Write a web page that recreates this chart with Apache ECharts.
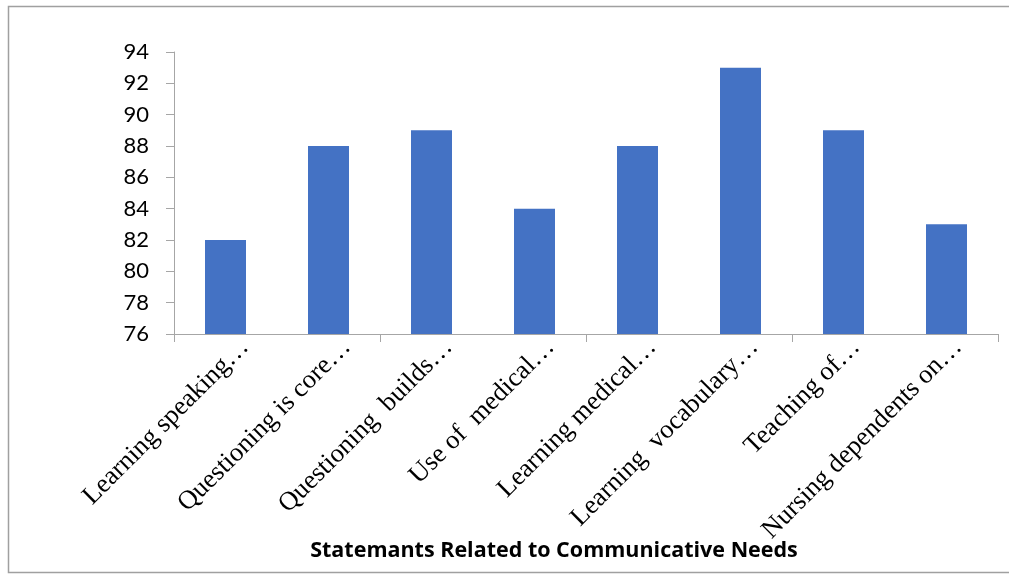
<!DOCTYPE html>
<html>
<head>
<meta charset="utf-8">
<script src="https://cdn.jsdelivr.net/npm/echarts@6/dist/echarts.min.js"></script>
<style>
html,body{margin:0;padding:0;background:#fff;}
#c{width:1009px;height:577px;}
</style>
</head>
<body>
<div id="c"></div>
<script>
const categories = [
  "Learning speaking\u2026",
  "Questioning is core\u2026",
  "Questioning  builds\u2026",
  "Use of  medical\u2026",
  "Learning medical\u2026",
  "Learning  vocabulary\u2026",
  "Teaching of\u2026",
  "Nursing dependents on\u2026"
];
const values = [82, 88, 89, 84, 88, 93, 89, 83];
const yTicks = { min: 76, max: 94, interval: 2 };
const xTitle = "Statemants Related to Communicative Needs";

const chart = echarts.init(document.getElementById('c'), null, {renderer: 'canvas'});
const axisGray = '#a6a6a6';
chart.setOption({
  animation: false,
  backgroundColor: '#fff',
  graphic: [{
    type: 'rect',
    shape: {x: 8.5, y: 6.5, width: 1010, height: 566},
    style: {fill: 'none', stroke: '#a0a0a0', lineWidth: 1.5},
    silent: true
  }],
  grid: [
    {left: 174, right: 11, top: 52, bottom: 243},
    {left: 194, right: -9, top: 52, bottom: 243}
  ],
  xAxis: [{
    type: 'category',
    gridIndex: 0,
    data: categories,
    axisLine: {lineStyle: {color: axisGray, width: 1}},
    axisTick: {show: true, length: 8, lineStyle: {color: axisGray}},
    axisLabel: {show: false},
    name: xTitle,
    nameLocation: 'middle',
    nameGap: 206,
    nameTextStyle: {fontFamily: 'Open Sans', fontWeight: 'bold', fontSize: 21.5, color: '#000', padding: [0, 64, 0, 0]}
  }, {
    type: 'category',
    gridIndex: 1,
    data: categories,
    axisLine: {show: false},
    axisTick: {show: false},
    axisLabel: {
      rotate: 45,
      margin: 9,
      interval: 0,
      fontFamily: 'Liberation Serif',
      fontSize: 26.5,
      color: '#000'
    }
  }],
  yAxis: [{
    type: 'value',
    gridIndex: 0,
    min: yTicks.min,
    max: yTicks.max,
    interval: yTicks.interval,
    axisLine: {show: true, lineStyle: {color: axisGray, width: 1}},
    axisTick: {show: true, length: 8, lineStyle: {color: axisGray}},
    splitLine: {show: false},
    axisLabel: {margin: 25, fontFamily: 'Lato', fontSize: 22, color: '#000'}
  }, {
    type: 'value',
    gridIndex: 1,
    show: false,
    min: 0, max: 1
  }],
  series: [{
    type: 'bar',
    xAxisIndex: 0,
    yAxisIndex: 0,
    data: values,
    barWidth: 41,
    itemStyle: {color: '#4472C4'}
  }]
});
</script>
</body>
</html>
